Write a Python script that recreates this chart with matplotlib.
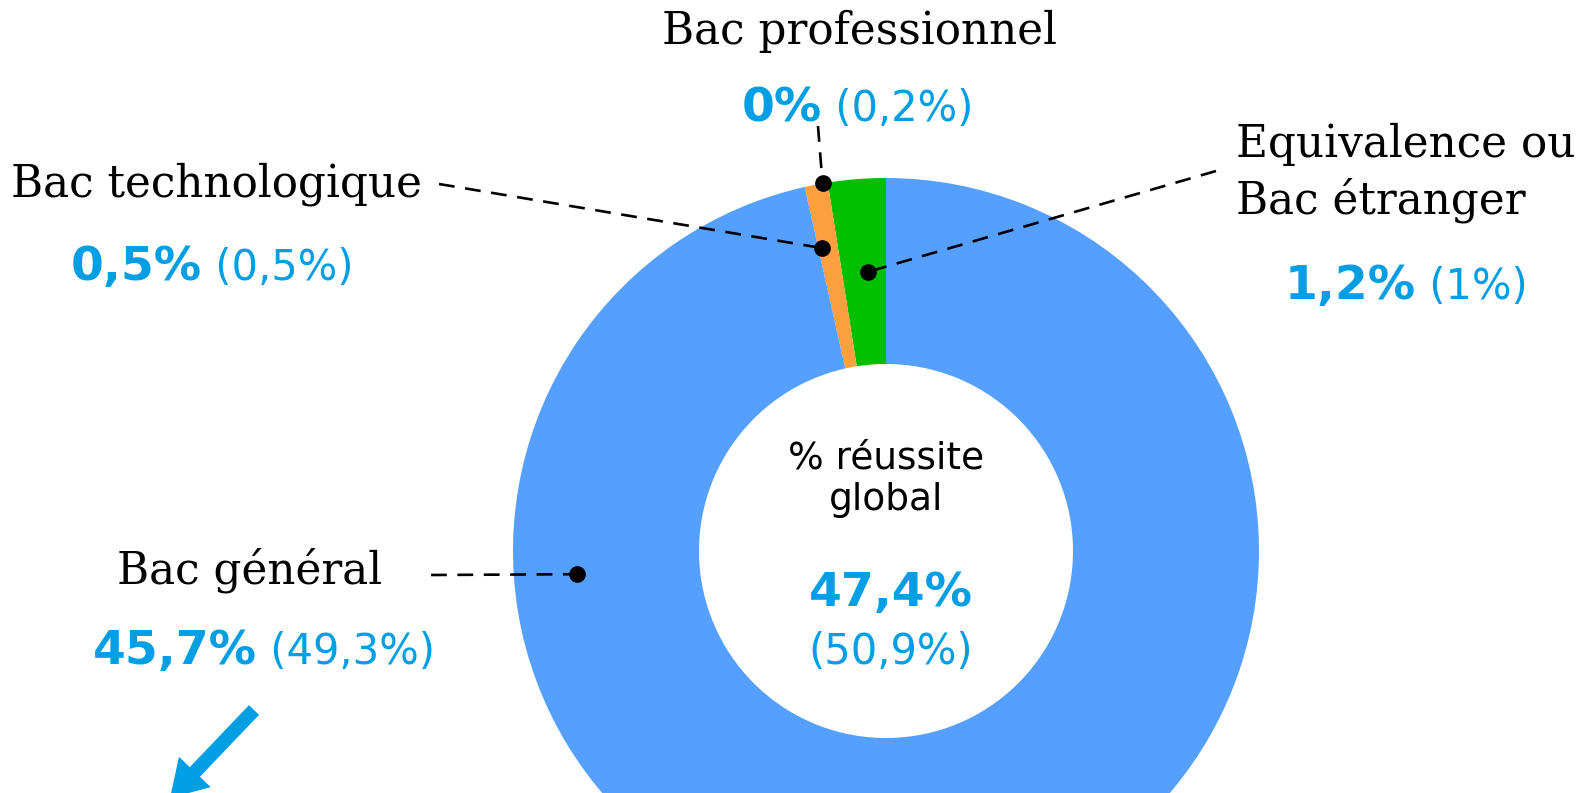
import numpy as np
import matplotlib

matplotlib.use("Agg")
import matplotlib.pyplot as plt

W, H = 1578, 793

# data
categories = ["Equivalence ou\nBac étranger", "Bac professionnel", "Bac technologique", "Bac général"]
shares = [2.5, 0.0, 1.0, 96.5]  # angular share of the ring (%)
rates = ["1,2%", "0%", "0,5%", "45,7%"]
rates_prev = ["(1%)", "(0,2%)", "(0,5%)", "(49,3%)"]
colors = ["#00BF00", "#00BF00", "#FFA040", "#559FFF"]
global_rate = "47,4%"
global_prev = "(50,9%)"

BLUE = "#009FE3"
SERIF = "DejaVu Serif"
SANS = "DejaVu Sans"

cx, cy = 886, H - 551
R, r_in = 373, 187

fig = plt.figure(figsize=(W / 100, H / 100), dpi=100)
ax = fig.add_axes([0, 0, 1, 1])
ax.pie(shares, colors=colors, startangle=90, counterclock=True, center=(cx, cy),
       radius=R, wedgeprops=dict(width=R - r_in, edgecolor="none", linewidth=0))
ax.set_xlim(0, W)
ax.set_ylim(0, H)
ax.set_aspect("auto")
ax.axis("off")


def polar(angle, frac):
    # angle measured counterclockwise from 12 o'clock
    a = np.deg2rad(90 + angle)
    return cx + frac * R * np.cos(a), cy + frac * R * np.sin(a)


# (dot angle, dot radius fraction, line end x, line end y from top)
leaders = [
    (3.7, 0.75, 1216, 171),
    (9.8, 1.0, 818, 126),
    (11.9, 0.83, 439, 184),
    (94.3, 0.83, 431, 575),
]
for ang, frac, lx, ly in leaders:
    dx, dy = polar(ang, frac)
    ax.plot([lx, dx], [H - ly, dy], color="black", lw=1.9, ls=(0, (6, 4)),
            solid_capstyle="butt")
    ax.plot(dx, dy, "o", color="black", ms=11)

renderer = fig.canvas.get_renderer()


def rate_pair(x, y, bold, light, size_b, size_l):
    t1 = ax.text(0, H - y, bold, fontsize=size_b, fontweight="bold", color=BLUE,
                 family=SANS, va="baseline", ha="left")
    t2 = ax.text(0, H - y, " " + light, fontsize=size_l, color=BLUE,
                 family=SANS, va="baseline", ha="left")
    w1 = t1.get_window_extent(renderer).width
    w2 = t2.get_window_extent(renderer).width
    x0 = x - (w1 + w2) / 2
    t1.set_x(x0)
    t2.set_x(x0 + w1)


lab_size = 31.5
# Equivalence
ax.text(1236, H - 173, categories[0], fontsize=lab_size, family=SERIF, ha="left",
        va="center", linespacing=1.3)
rate_pair(1406, 299, rates[0], rates_prev[0], 34, 30)
# Bac pro
ax.text(860, H - 31, categories[1], fontsize=lab_size, family=SERIF, ha="center", va="center")
rate_pair(858, 121, rates[1], rates_prev[1], 34, 30)
# Bac techno
ax.text(217, H - 184, categories[2], fontsize=lab_size, family=SERIF, ha="center", va="center")
rate_pair(212, 280, rates[2], rates_prev[2], 34, 30)
# Bac general
ax.text(250, H - 570, categories[3], fontsize=lab_size, family=SERIF, ha="center", va="center")
rate_pair(264, 664, rates[3], rates_prev[3], 34, 30)

# centre of the ring
ax.text(886, H - 479, "% réussite\nglobal", fontsize=27, family=SANS, ha="center",
        va="center", linespacing=1.2)
ax.text(891, H - 606, global_rate, fontsize=34, fontweight="bold", color=BLUE,
        family=SANS, ha="center", va="baseline")
ax.text(891, H - 652, global_prev, fontsize=30, color=BLUE, family=SANS,
        ha="center", va="center")

# arrow pointing down-left
ax.arrow(254, H - 710, -84, -88, width=14, head_width=44, head_length=36,
         length_includes_head=True, color=BLUE, lw=0)

fig.savefig("out.png", dpi=100)
